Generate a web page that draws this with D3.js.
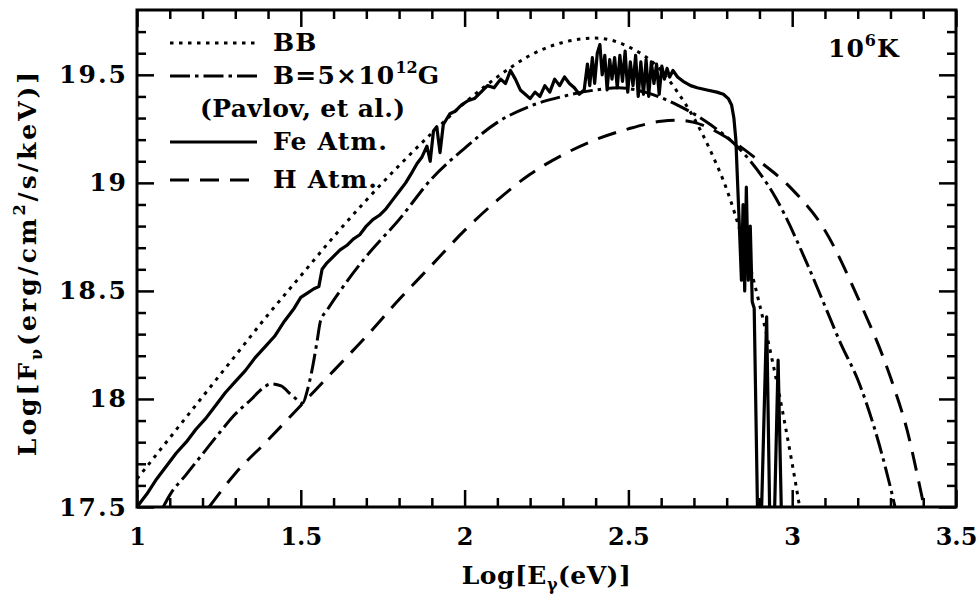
<!DOCTYPE html>
<html>
<head>
<meta charset="utf-8">
<script src="https://cdn.jsdelivr.net/npm/d3@7"></script>
<style>
  body { margin: 0; background: #fff; }
  text { font-family: "DejaVu Serif", serif; font-weight: bold; fill: #000; }
</style>
</head>
<body>
<div id="chart"></div>
<script>
// axis ticks
const xMajor = [1, 1.5, 2, 2.5, 3, 3.5];
const yMajor = [17.5, 18, 18.5, 19, 19.5];
const xMinor = [1.1, 1.2, 1.3, 1.4, 1.6, 1.7, 1.8, 1.9, 2.1, 2.2, 2.3, 2.4, 2.6, 2.7, 2.8, 2.9, 3.1, 3.2, 3.3, 3.4];
const yMinor = [17.6, 17.7, 17.8, 17.9, 18.1, 18.2, 18.3, 18.4, 18.6, 18.7, 18.8, 18.9, 19.1, 19.2, 19.3, 19.4, 19.6, 19.7];

// blackbody
const bbX = [1.0, 1.1, 1.2, 1.3, 1.4, 1.5, 1.6, 1.7, 1.8, 1.9, 2.0, 2.1, 2.2, 2.3, 2.4, 2.5, 2.6, 2.65, 2.7, 2.75, 2.8, 2.85, 2.9, 2.95, 3.0, 3.05];
const bbY = [17.63, 17.82, 18.01, 18.20, 18.39, 18.57, 18.75, 18.92, 19.08, 19.23, 19.37, 19.49, 19.59, 19.65, 19.67, 19.63, 19.52, 19.42, 19.30, 19.15, 18.97, 18.73, 18.44, 18.10, 17.70, 17.25];

// magnetic H atmosphere, B=5e12 G (Pavlov et al.)
const pavX = [1.08, 1.10, 1.15, 1.20, 1.25, 1.30, 1.35, 1.38, 1.41, 1.44, 1.47, 1.49, 1.505, 1.52, 1.535, 1.55, 1.56, 1.58, 1.62, 1.70, 1.80, 1.90, 2.00, 2.10, 2.20, 2.30, 2.40, 2.47, 2.55, 2.65, 2.75, 2.85, 2.95, 3.05, 3.10, 3.15, 3.20, 3.25, 3.30, 3.32];
const pavY = [17.50, 17.555, 17.65, 17.745, 17.84, 17.93, 18.00, 18.045, 18.07, 18.06, 18.02, 17.995, 17.98, 18.04, 18.14, 18.27, 18.36, 18.41, 18.50, 18.66, 18.83, 19.02, 19.16, 19.28, 19.355, 19.40, 19.43, 19.44, 19.42, 19.36, 19.27, 19.14, 18.93, 18.61, 18.43, 18.25, 18.09, 17.87, 17.59, 17.46];

// H atmosphere
const hX = [1.22, 1.30, 1.40, 1.50, 1.60, 1.70, 1.80, 1.90, 2.00, 2.10, 2.20, 2.30, 2.40, 2.50, 2.60, 2.65, 2.70, 2.80, 2.90, 3.00, 3.10, 3.20, 3.30, 3.35, 3.40, 3.41];
const hY = [17.50, 17.655, 17.81, 17.97, 18.13, 18.29, 18.46, 18.62, 18.78, 18.92, 19.04, 19.13, 19.20, 19.25, 19.285, 19.29, 19.28, 19.21, 19.10, 18.97, 18.78, 18.47, 18.10, 17.86, 17.52, 17.45];

// Fe atmosphere
const feX = [1.00, 1.03, 1.06, 1.09, 1.12, 1.15, 1.18, 1.21, 1.24, 1.27, 1.30, 1.33, 1.36, 1.39, 1.42, 1.45, 1.48, 1.50, 1.52, 1.54, 1.555, 1.565, 1.58, 1.60, 1.62, 1.64, 1.66, 1.68, 1.70, 1.72, 1.74, 1.76, 1.78, 1.80, 1.82, 1.84, 1.855, 1.87, 1.885, 1.895, 1.905, 1.915, 1.925, 1.935, 1.955, 1.97, 1.99, 2.01, 2.03, 2.05, 2.07, 2.09, 2.11, 2.125, 2.14, 2.155, 2.17, 2.185, 2.20, 2.215, 2.23, 2.245, 2.26, 2.275, 2.29, 2.305, 2.32, 2.335, 2.35, 2.365,
  2.375, 2.382, 2.39, 2.397, 2.405, 2.413, 2.42, 2.428, 2.435, 2.443, 2.45, 2.458, 2.466, 2.474, 2.482, 2.49, 2.498, 2.506, 2.514, 2.522, 2.53, 2.538, 2.546, 2.554, 2.562, 2.57, 2.578, 2.586, 2.594, 2.602, 2.61, 2.618, 2.626, 2.636, 2.65, 2.667, 2.69, 2.71, 2.74, 2.77, 2.79, 2.805, 2.815, 2.822, 2.828, 2.832, 2.836,
  2.84, 2.845, 2.85, 2.855, 2.86, 2.866, 2.872, 2.878, 2.884, 2.895, 2.905, 2.922, 2.932, 2.945, 2.957, 2.968, 2.99];
const feY = [17.50, 17.56, 17.63, 17.69, 17.75, 17.80, 17.86, 17.91, 17.97, 18.03, 18.08, 18.13, 18.19, 18.24, 18.29, 18.36, 18.42, 18.47, 18.49, 18.51, 18.52, 18.60, 18.63, 18.66, 18.69, 18.71, 18.74, 18.76, 18.80, 18.83, 18.85, 18.88, 18.92, 18.96, 19.00, 19.05, 19.09, 19.12, 19.17, 19.10, 19.24, 19.26, 19.14, 19.27, 19.32, 19.33, 19.36, 19.38, 19.39, 19.42, 19.45, 19.44, 19.48, 19.46, 19.52, 19.48, 19.43, 19.41, 19.39, 19.42, 19.40, 19.45, 19.42, 19.48, 19.45, 19.49, 19.46, 19.44, 19.41, 19.43,
  19.55, 19.45, 19.58, 19.46, 19.60, 19.64, 19.50, 19.59, 19.43, 19.57, 19.48, 19.58, 19.44, 19.59, 19.47, 19.61, 19.42, 19.56, 19.45, 19.59, 19.40, 19.56, 19.41, 19.57, 19.40, 19.56, 19.46, 19.55, 19.41, 19.54, 19.48, 19.53, 19.49, 19.52, 19.49, 19.47, 19.45, 19.44, 19.43, 19.42, 19.41, 19.39, 19.36, 19.30, 19.20, 19.05, 18.90,
  18.75, 18.55, 18.90, 18.50, 18.98, 18.55, 18.80, 18.45, 18.42, 17.40, 17.40, 18.38, 17.40, 17.40, 18.18, 17.40, 17.40];

const margin = { top: 10, right: 22, bottom: 87, left: 137 };
const width = 978;
const height = 594;
const plotW = width - margin.left - margin.right;
const plotH = height - margin.top - margin.bottom;

const svg = d3.select("#chart")
  .append("svg")
  .attr("width", width)
  .attr("height", height);

const g = svg.append("g")
  .attr("transform", `translate(${margin.left},${margin.top})`);

const x = d3.scaleLinear().domain([1, 3.5]).range([0, plotW]);
const y = d3.scaleLinear().domain([17.5, 19.8]).range([plotH, 0]);

// clip
svg.append("defs").append("clipPath").attr("id", "clip")
  .append("rect").attr("width", plotW).attr("height", plotH);

// ticks on all four sides, pointing inward
function drawAxis(axisFn, vals, size, transform, labels) {
  const ax = g.append("g")
    .attr("transform", transform)
    .call(axisFn.tickValues(vals).tickSize(-size).tickFormat(labels ? d3.format("") : ""));
  ax.select(".domain").remove();
  ax.selectAll("line").attr("stroke", "#000").attr("stroke-width", 2.5);
  return ax;
}

const bottomAx = drawAxis(d3.axisBottom(x).tickPadding(21), xMajor, 17, `translate(0,${plotH})`, true);
drawAxis(d3.axisBottom(x), xMinor, 9, `translate(0,${plotH})`, false);
drawAxis(d3.axisTop(x), xMajor, 17, "translate(0,0)", false);
drawAxis(d3.axisTop(x), xMinor, 9, "translate(0,0)", false);
const leftAx = drawAxis(d3.axisLeft(y).tickPadding(9), yMajor, 17, "translate(0,0)", true);
drawAxis(d3.axisLeft(y), yMinor, 9, "translate(0,0)", false);
drawAxis(d3.axisRight(y), yMajor, 17, `translate(${plotW},0)`, false);
drawAxis(d3.axisRight(y), yMinor, 9, `translate(${plotW},0)`, false);

[bottomAx, leftAx].forEach(ax => ax.selectAll("text")
  .attr("fill", "#000")
  .style("font-family", "DejaVu Serif")
  .style("font-weight", "bold"));
leftAx.selectAll("text").style("font-size", "25px").style("letter-spacing", "2px");
bottomAx.selectAll("text").style("font-size", "24px").style("letter-spacing", "0px");

// frame
g.append("rect")
  .attr("width", plotW)
  .attr("height", plotH)
  .attr("fill", "none")
  .attr("stroke", "#000")
  .attr("stroke-width", 3);

// curves
const zip = (xs, ys) => xs.map((v, i) => [v, ys[i]]);
const series = [
  { name: "BB", pts: zip(bbX, bbY), dash: "3.5,5.5", curve: d3.curveMonotoneX },
  { name: "Pavlov", pts: zip(pavX, pavY), dash: "20,5,3.5,5", curve: d3.curveMonotoneX },
  { name: "Fe", pts: zip(feX, feY), dash: null, curve: d3.curveLinear },
  { name: "H", pts: zip(hX, hY), dash: "19,11", curve: d3.curveMonotoneX }
];

const curves = g.append("g").attr("clip-path", "url(#clip)");
series.forEach(s => {
  curves.append("path")
    .datum(s.pts)
    .attr("fill", "none")
    .attr("stroke", "#000")
    .attr("stroke-width", s.name === "Fe" ? 3.2 : 3)
    .attr("stroke-linejoin", "round")
    .attr("stroke-dasharray", s.dash)
    .attr("d", d3.line().x(d => x(d[0])).y(d => y(d[1])).curve(s.curve));
});

// legend
const legendRows = [
  { dash: "3.5,5.5", y: 43, label: "BB" },
  { dash: "20,5,3.5,5", y: 76, label: "B=5×10", sup: "12", tail: "G" },
  { dash: null, y: 142, label: "Fe Atm." },
  { dash: "19,11", y: 180, label: "H Atm." }
];
legendRows.forEach(r => {
  svg.append("line")
    .attr("x1", 170).attr("x2", 257)
    .attr("y1", r.y).attr("y2", r.y)
    .attr("stroke", "#000")
    .attr("stroke-width", r.dash ? 3 : 3.2)
    .attr("stroke-dasharray", r.dash);
  const t = svg.append("text")
    .attr("x", 273)
    .attr("y", r.y + 8)
    .style("font-size", "25px")
    .style("letter-spacing", "1.2px")
    .text(r.label);
  if (r.sup) {
    t.append("tspan").attr("dy", -11).style("font-size", "16px").style("letter-spacing", "0px").text(r.sup);
    t.append("tspan").attr("dy", 11).text(r.tail);
  }
});
svg.append("text")
  .attr("x", 200)
  .attr("y", 117)
  .style("font-size", "25px")
  .style("letter-spacing", "0.4px")
  .text("(Pavlov, et al.)");

// temperature label
const temp = svg.append("text")
  .attr("x", 828)
  .attr("y", 57)
  .style("font-size", "25px")
  .style("letter-spacing", "1px")
  .text("10");
temp.append("tspan").attr("dy", -11).style("font-size", "16px").text("6");
temp.append("tspan").attr("dy", 11).text("K");

// axis titles
const xt = svg.append("text")
  .attr("x", margin.left + plotW / 2)
  .attr("y", 584)
  .attr("text-anchor", "middle")
  .style("font-size", "25px")
  .style("letter-spacing", "0.5px")
  .text("Log[E");
xt.append("tspan").attr("dy", 6).style("font-size", "16px").text("γ");
xt.append("tspan").attr("dy", -6).text("(eV)]");

const yt = svg.append("text")
  .attr("transform", `translate(36,${margin.top + plotH / 2 + 4}) rotate(-90)`)
  .attr("text-anchor", "middle")
  .style("font-size", "25px")
  .style("letter-spacing", "3px")
  .text("Log[F");
yt.append("tspan").attr("dy", 6).style("font-size", "16px").text("ν");
yt.append("tspan").attr("dy", -6).text("(erg/cm");
yt.append("tspan").attr("dy", -11).style("font-size", "16px").text("2");
yt.append("tspan").attr("dy", 11).text("/s/keV)]");
</script>
</body>
</html>
